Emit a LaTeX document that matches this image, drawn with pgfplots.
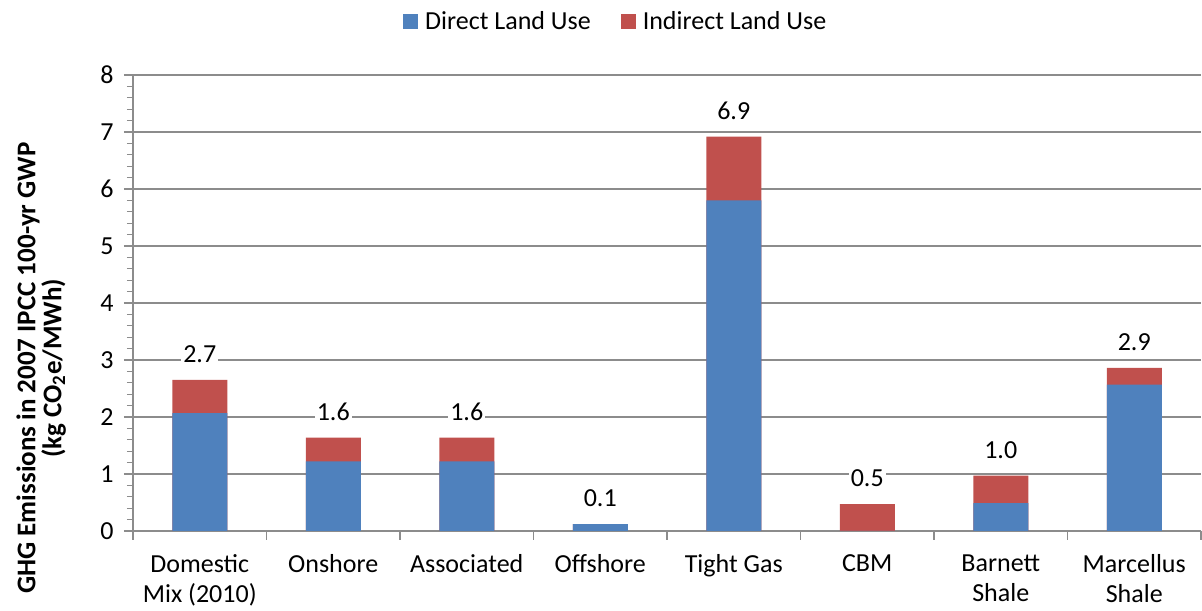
\documentclass[border=0pt]{standalone}
\usepackage{fontspec}
\setmainfont{Carlito}
\usepackage{pgfplots}
\usepackage{pgfplotstable}
\pgfplotsset{compat=1.18}
\definecolor{cblue}{HTML}{4F81BD}
\definecolor{cred}{HTML}{C0504D}
\definecolor{cgrid}{HTML}{8C8C8C}
\pgfplotstableread{
x direct total label
0 2.07 2.65 2.7
1 1.22 1.64 1.6
2 1.22 1.64 1.6
3 0.12 0.12 0.1
4 5.80 6.92 6.9
5 0.00 0.47 0.5
6 0.49 0.97 1.0
7 2.57 2.86 2.9
}\datatable
\begin{document}
\begin{tikzpicture}
\begin{axis}[
  name=ax,
  scale only axis,
  width=1068pt, height=456pt,
  ybar, bar shift=0pt,
  bar width=55pt,
  xmin=-0.5, xmax=7.5,
  ymin=0, ymax=8,
  axis lines*=left,
  axis line style={cgrid, line width=1.3pt},
  xtick={-0.5,0.5,...,7.5},
  x tick label as interval,
  xticklabels={{Domestic\\Mix (2010)},Onshore,Associated,Offshore,{Tight Gas},CBM,{Barnett\\Shale},{Marcellus\\Shale}},
  xticklabel style={align=center, font=\fontsize{26}{30}\selectfont, yshift=-11pt},
  ytick={0,1,...,8},
  minor y tick num=4,
  tick align=outside,
  major tick length=9pt,
  minor tick length=6pt,
  tick style={cgrid, line width=1.3pt},
  ymajorgrids,
  major grid style={cgrid, line width=1.3pt},
  yticklabel style={font=\fontsize{26}{30}\selectfont, xshift=-7pt},
  /pgf/number format/assume math mode=true,
  ylabel={GHG Emissions in 2007 IPCC 100-yr GWP\\(kg CO\textsubscript{2}e/MWh)},
  ylabel style={at={(axis description cs:-0.086,0.357)}, anchor=center, align=center, font=\bfseries\fontsize{27}{26}\selectfont},
  reverse legend,
  legend style={at={(axis description cs:0.452,1)}, anchor=south, yshift=40pt, draw=none, legend columns=2, font=\fontsize{26}{30}\selectfont,
    /tikz/every odd column/.append style={column sep=5pt},
    /tikz/every even column/.append style={column sep=28pt}},
  legend image code/.code={\fill[#1] (0pt,-7.5pt) rectangle (15pt,7.5pt);},
]
\addplot[fill=cred, draw=none] table[x=x, y=total] {\datatable};
\addlegendentry{Indirect Land Use}
\addplot[fill=cblue, draw=none] table[x=x, y=direct] {\datatable};
\addlegendentry{Direct Land Use}
\addplot[sharp plot, draw=none, forget plot, nodes near coords, point meta=explicit symbolic,
  nodes near coords style={font=\fontsize{26}{30}\selectfont, fill=white, inner sep=2pt, anchor=center, yshift=26pt}]
  table[x=x, y=total, meta=label] {\datatable};
\end{axis}
\pgfresetboundingbox
\path (ax.south west) ++(-133pt,-80pt) coordinate (bl);
\path (ax.north east) ++(1pt,75pt) coordinate (tr);
\path[use as bounding box] (bl) rectangle (tr);
\end{tikzpicture}
\end{document}
